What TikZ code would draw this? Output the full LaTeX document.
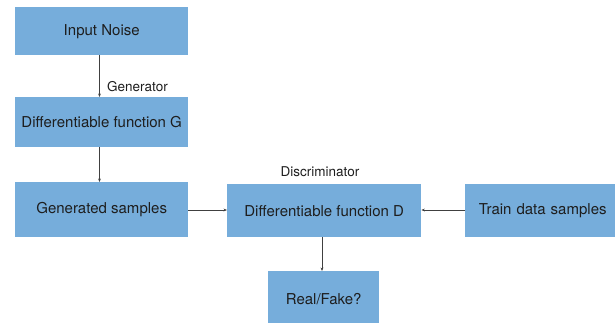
\documentclass[tikz,border=0pt]{standalone}
\usepackage{fontspec}
\setmainfont{TeX Gyre Heros}
\usetikzlibrary{arrows.meta}
\definecolor{boxblue}{RGB}{118,173,219}
\definecolor{txt}{RGB}{30,30,30}
\begin{document}
\begin{tikzpicture}[x=1pt,y=-1pt,
  box/.style={fill=boxblue,draw=none,inner sep=0pt,text=txt,font=\fontsize{15}{17}\selectfont,anchor=north west},
  arr/.style={draw=black!75,line width=0.6pt,-{Stealth[length=3.5pt,width=2.8pt]}},
  lab/.style={text=txt,font=\fontsize{13.5}{15}\selectfont,inner sep=0pt}]
\useasboundingbox (0,0) rectangle (615,322);
\node[box,minimum width=173pt,minimum height=48pt] (noise) at (15,7) {Input Noise};
\node[box,minimum width=173pt,minimum height=50pt] (G) at (15,97) {Differentiable function G};
\node[box,minimum width=173pt,minimum height=55pt] (gen) at (15,182) {Generated samples};
\node[box,minimum width=194pt,minimum height=53pt] (D) at (227,184) {Differentiable function D};
\node[box,minimum width=155pt,minimum height=53pt,text width=150pt,align=center] (train) at (465,184) {Train data samples};
\node[box,minimum width=111pt,minimum height=55pt] (real) at (268,271) {Real/Fake?};
\draw[arr] (noise.south -| 99.5,0) -- (G.north -| 99.5,0);
\draw[arr] (G.south -| 99.5,0) -- (gen.north -| 99.5,0);
\draw[arr] (gen.east |- 0,210) -- (D.west |- 0,210);
\draw[arr] (train.west |- 0,210) -- (D.east |- 0,210);
\draw[arr] (D.south -| 322,0) -- (real.north -| 322,0);
\node[lab,anchor=west] (glab) at (107,87) {Generator};
\node[lab] (dlab) at (320,172) {Discriminator};
\end{tikzpicture}
\end{document}
